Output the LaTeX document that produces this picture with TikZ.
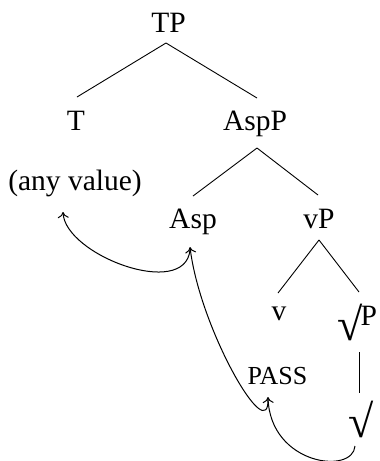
\documentclass[tikz,border=0pt]{standalone}
\usepackage{fontspec}
\setmainfont{Liberation Serif}
\usetikzlibrary{calc,arrows.meta}
\newcommand\rootsym{\raisebox{-15pt}{\fontsize{46}{46}\selectfont √}}
\tikzset{
  lbl/.style={inner sep=0pt, outer sep=0pt, anchor=base, font=\fontsize{29.5}{32}\selectfont},
  small/.style={inner sep=0pt, outer sep=0pt, anchor=base, font=\fontsize{26}{28}\selectfont},
  branch/.style={line width=0.9pt},
  mover/.style={line width=1pt, -{To[length=6pt,width=11pt]}}
}
\begin{document}
\begin{tikzpicture}[x=1pt,y=-1pt]
\useasboundingbox (0,0) rectangle (380,461);
% nodes
\node[lbl] (TP)   at (168.5,32) {TP};
\node[lbl] (T)    at (76,130) {T};
\node[lbl] (AspP) at (255,130) {AspP};
\node[lbl] (any)  at (75,190) {(any value)};
\node[lbl] (Asp)  at (193,228) {Asp};
\node[lbl] (vP)   at (319,228) {vP};
\node[lbl] (v)    at (279,320) {v};
\node[lbl, anchor=base west] (sqP) at (337,325) {\rootsym\kern-1.5pt P};
\node[small] (pass) at (277.5,384) {PASS};
\node[lbl] (sq)   at (361,422) {\rootsym};
% branches
\draw[branch] ($(TP.base)+(-2.5,11)$) -- ($(T.base)+(1,-33)$);
\draw[branch] ($(TP.base)+(-2.5,11)$) -- ($(AspP.base)+(2,-32)$);
\draw[branch] ($(AspP.base)+(2,18)$) -- ($(Asp.base)+(0,-32)$);
\draw[branch] ($(AspP.base)+(2,18)$) -- ($(vP.base)+(-1,-33)$);
\draw[branch] ($(vP.base)+(0,12)$) -- ($(v.base)+(-1,-27)$);
\draw[branch] ($(vP.base)+(0,12)$) -- ($(sqP.base west)+(22,-33)$);
\draw[branch] ($(sqP.base west)+(22,27)$) -- ($(sqP.base west)+(22,68)$);
% movement arrows
\draw[mover] ($(Asp.base)+(-3,22)$) .. controls (185,300) and (65,255) .. ($(any.base)+(-12,22)$);
\draw[mover] ($(pass.base)+(-9.5,14)$) .. controls (270,450) and (200,330) .. ($(Asp.base)+(-3,19)$);
\draw[mover] ($(sq.base)+(-6,24)$) .. controls (353,475) and (270,465) .. ($(pass.base)+(-9.5,13)$);
\end{tikzpicture}
\end{document}
